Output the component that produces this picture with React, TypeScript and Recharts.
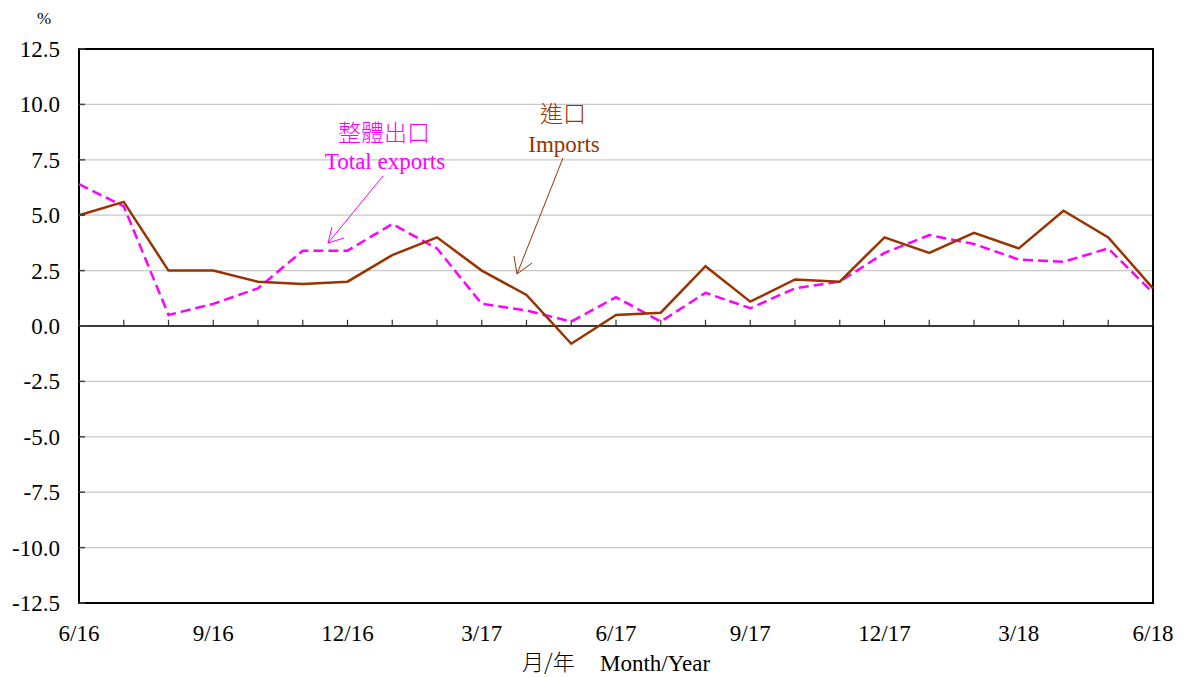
import React from "react";
import {
  LineChart,
  Line,
  XAxis,
  YAxis,
  CartesianGrid,
  ReferenceLine,
  ReferenceArea,
} from "recharts";

// ── Data (year-on-year % change) ─────────────────────────────────────
const MONTHS = [
  "6/16", "7/16", "8/16", "9/16", "10/16", "11/16", "12/16", "1/17", "2/17",
  "3/17", "4/17", "5/17", "6/17", "7/17", "8/17", "9/17", "10/17", "11/17",
  "12/17", "1/18", "2/18", "3/18", "4/18", "5/18", "6/18",
];
const TOTAL_EXPORTS = [
  6.4, 5.4, 0.5, 1.0, 1.7, 3.4, 3.4, 4.6, 3.5, 1.0, 0.7, 0.2, 1.3, 0.2, 1.5,
  0.8, 1.7, 2.0, 3.3, 4.1, 3.7, 3.0, 2.9, 3.5, 1.5,
];
const IMPORTS = [
  5.0, 5.6, 2.5, 2.5, 2.0, 1.9, 2.0, 3.2, 4.0, 2.5, 1.4, -0.8, 0.5, 0.6, 2.7,
  1.1, 2.1, 2.0, 4.0, 3.3, 4.2, 3.5, 5.2, 4.0, 1.7,
];
const Y_TICKS = [-12.5, -10, -7.5, -5, -2.5, 0, 2.5, 5, 7.5, 10, 12.5];
const X_LABEL_TICKS = [0, 3, 6, 9, 12, 15, 18, 21, 24];

const data = MONTHS.map((m, i) => ({
  idx: i,
  month: m,
  exports: TOTAL_EXPORTS[i],
  imports: IMPORTS[i],
}));

const SERIF = "'Liberation Serif', 'Times New Roman', serif";
const CJK = "'Noto Sans CJK TC', sans-serif";
const BROWN = "#993300";
const MAGENTA = "#FF00FF";
const FS = 23;

// y tick label, right-aligned just left of the plot
const YTick = (props: any) => {
  const { x, y, payload } = props;
  return (
    <text
      x={x}
      y={y}
      dy="0.35em"
      textAnchor="end"
      fontSize={FS}
      fontFamily={SERIF}
      fill="#000"
    >
      {Number(payload.value).toFixed(1)}
    </text>
  );
};

export default function App() {
  return (
    <div
      style={{
        position: "absolute",
        left: 0,
        top: 0,
        width: 1185,
        height: 677,
        background: "#fff",
        fontFamily: SERIF,
      }}
    >
      <LineChart
        width={1185}
        height={677}
        data={data}
        margin={{ top: 49, right: 32, bottom: 24, left: 0 }}
        style={{ fontFamily: SERIF }}
      >
        <CartesianGrid vertical={false} stroke="#c8c8c8" strokeWidth={1.2} />
        <XAxis
          dataKey="idx"
          type="number"
          domain={[0, 24]}
          ticks={X_LABEL_TICKS}
          tickFormatter={(v: number) => MONTHS[v]}
          axisLine={false}
          tickLine={false}
          tickSize={0}
          tickMargin={22}
          height={50}
          interval={0}
          tick={{ fill: "#000", fontSize: FS, fontFamily: SERIF }}
        />
        <YAxis
          type="number"
          domain={[-12.5, 12.5]}
          ticks={Y_TICKS}
          axisLine={false}
          tickSize={-6}
          tickMargin={25}
          width={79}
          interval={0}
          tickLine={{ stroke: "#444", strokeWidth: 1.5 }}
          tick={<YTick />}
        />
        <ReferenceArea
          x1={0}
          x2={24}
          y1={-12.5}
          y2={12.5}
          fill="none"
          stroke="#000"
          strokeWidth={2}
          ifOverflow="visible"
        />
        <ReferenceLine y={0} stroke="#000" strokeWidth={1.5} />
        {MONTHS.map((m, i) => (
          <ReferenceLine
            key={m}
            segment={[
              { x: i, y: 0 },
              { x: i, y: 0.28 },
            ]}
            stroke="#333"
            strokeWidth={1.2}
          />
        ))}
        <Line
          dataKey="exports"
          stroke={MAGENTA}
          strokeWidth={2.5}
          strokeDasharray="10 5"
          dot={false}
          isAnimationActive={false}
        />
        <Line
          dataKey="imports"
          stroke={BROWN}
          strokeWidth={2.5}
          dot={false}
          isAnimationActive={false}
        />
      </LineChart>

      {/* ── Annotations ─────────────────────────────────────────── */}
      <svg
        width={1185}
        height={677}
        style={{ position: "absolute", left: 0, top: 0, pointerEvents: "none" }}
      >
        <text x={44} y={24} fontSize={17} textAnchor="middle" fontFamily={SERIF}>
          %
        </text>

        <text x={384} y={141} fontSize={FS} fill={MAGENTA} textAnchor="middle" fontFamily={CJK} fontWeight={300}>
          整體出口
        </text>
        <text x={385} y={169} fontSize={FS} fill={MAGENTA} textAnchor="middle" fontFamily={SERIF}>
          Total exports
        </text>
        <g stroke={MAGENTA} strokeWidth={1} fill="none">
          <line x1={383} y1={176} x2={328} y2={243} />
          <line x1={328} y1={243} x2={344} y2={238} />
          <line x1={328} y1={243} x2={332} y2={227} />
        </g>

        <text x={563} y={122} fontSize={FS} fill={BROWN} textAnchor="middle" fontFamily={CJK} fontWeight={300}>
          進口
        </text>
        <text x={564} y={152} fontSize={FS} fill={BROWN} textAnchor="middle" fontFamily={SERIF}>
          Imports
        </text>
        <g stroke={BROWN} strokeWidth={1} fill="none">
          <line x1={563} y1={158} x2={517} y2={274} />
          <line x1={517} y1={274} x2={514} y2={256} />
          <line x1={517} y1={274} x2={532} y2={263} />
        </g>

        <text x={522} y={670} fontSize={22} fontFamily={CJK} fontWeight={300}>
          月/年
        </text>
        <text x={600} y={671} fontSize={FS} fontFamily={SERIF}>
          Month/Year
        </text>
      </svg>
    </div>
  );
}
